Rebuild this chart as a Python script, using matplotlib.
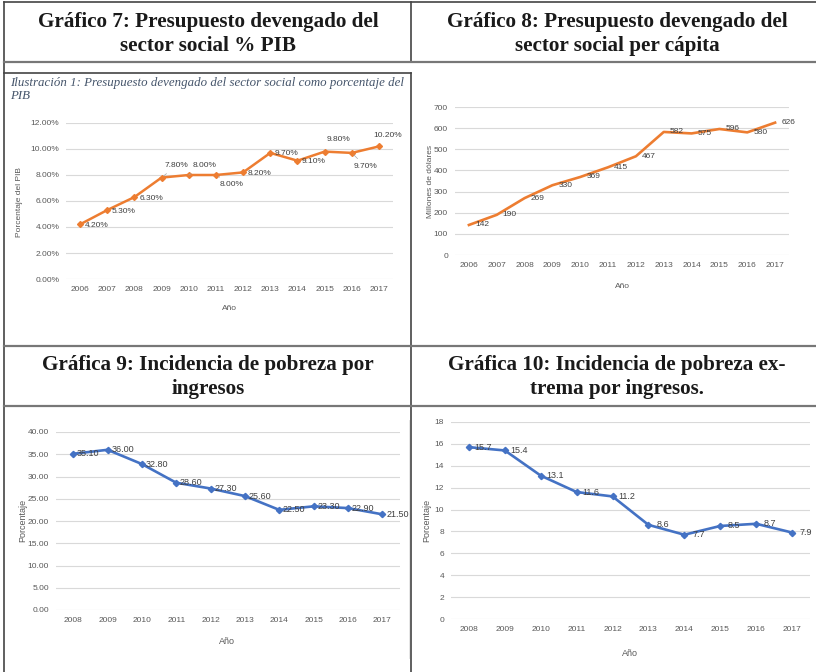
import matplotlib.pyplot as plt
from matplotlib.lines import Line2D
from matplotlib.ticker import StrMethodFormatter

# datos
anios_a = ["2006", "2007", "2008", "2009", "2010", "2011",
           "2012", "2013", "2014", "2015", "2016", "2017"]
pib = [4.2, 5.3, 6.3, 7.8, 8.0, 8.0, 8.2, 9.7, 9.1, 9.8, 9.7, 10.2]
per_capita = [142, 190, 269, 330, 369, 415, 467, 582, 575, 596, 580, 626]

anios_b = ["2008", "2009", "2010", "2011", "2012",
           "2013", "2014", "2015", "2016", "2017"]
pobreza = [35.1, 36.0, 32.8, 28.6, 27.3, 25.6, 22.5, 23.3, 22.9, 21.5]
pobreza_ext = [15.7, 15.4, 13.1, 11.6, 11.2, 8.6, 7.7, 8.5, 8.7, 7.9]

titulos = ["Gráfico 7: Presupuesto devengado del\nsector social % PIB",
           "Gráfico 8: Presupuesto devengado del\nsector social per cápita",
           "Gráfica 9: Incidencia de pobreza por\ningresos",
           "Gráfica 10: Incidencia de pobreza ex-\ntrema por ingresos."]

W, H = 816, 672
NARANJA = "#ED7D31"
AZUL = "#4472C4"
GRIS = "#595959"
FUENTE = ["Liberation Sans Narrow", "Liberation Sans", "DejaVu Sans"]

fig = plt.figure(figsize=(W / 100, H / 100), dpi=100)


def px(x, y):
    return x / W, 1 - y / H


def linea(x0, y0, x1, y1, lw=1.2, color="#444444"):
    fig.add_artist(Line2D([x0 / W, x1 / W], [1 - y0 / H, 1 - y1 / H],
                          transform=fig.transFigure, lw=lw, color=color))


def ejes(x0, x1, y0, y1):
    ax = fig.add_axes([x0 / W, 1 - y1 / H, (x1 - x0) / W, (y1 - y0) / H])
    for s in ax.spines.values():
        s.set_visible(False)
    ax.grid(axis="y", color="#D9D9D9", lw=0.8)
    ax.set_axisbelow(True)
    ax.tick_params(length=0, labelsize=6, colors=GRIS, pad=5)
    for t in ax.get_xticklabels() + ax.get_yticklabels():
        t.set_family(FUENTE)
    return ax


def texto(x, y, s, **kw):
    kw.setdefault("family", FUENTE)
    kw.setdefault("color", GRIS)
    kw.setdefault("ha", "center")
    kw.setdefault("va", "center")
    fig.text(*px(x, y), s, **kw)


# tabla
linea(4, 2, 816, 2)
linea(4, 2, 4, 672)
linea(411, 2, 411, 62)
linea(411, 73, 411, 346)
linea(411, 346, 411, 672)
linea(4, 62, 816, 62, lw=1.6, color="#777777")
linea(4, 73, 411, 73)
linea(4, 346, 816, 346, lw=1.6, color="#777777")
linea(4, 406, 816, 406, lw=1.6, color="#777777")
linea(409, 420, 409, 658, lw=0.6, color="#E0E0E0")

for (x, y), t in zip([(208, 34), (617, 34), (208, 377), (617, 377)], titulos):
    fig.text(*px(x, y), t, ha="center", va="center", family="Liberation Serif",
             weight="bold", fontsize=15.2, color="#1a1a1a", linespacing=1.23)

fig.text(*px(10, 89.5), "Ilustración 1: Presupuesto devengado del sector social como porcentaje del\nPIB",
         ha="left", va="center", family="Liberation Serif", style="italic",
         fontsize=9.3, color="#44546A", linespacing=1.2)

# Gráfico 7
ax = ejes(66.4, 392.6, 123, 279)
ax.plot(anios_a, pib, color=NARANJA, lw=1.8, marker="D", ms=3)
ax.set_xlim(-0.5, 11.5)
ax.set_ylim(0, 12)
ax.set_yticks(range(0, 13, 2))
ax.yaxis.set_major_formatter(StrMethodFormatter("{x:.2f}%"))
desp7 = [(17, -1), (16, -1), (17, -1), (15, 12), (16, 9), (16, -10),
         (16, -1), (16, -1), (16, -1), (14, 12), (14, -14), (9, 11)]
guia7 = [3, 4, 5, 10]
for i, v in enumerate(pib):
    ap = dict(arrowstyle="-", color="#A6A6A6", lw=0.5) if i in guia7 else None
    ax.annotate(f"{v:.2f}%", (i, v), xytext=desp7[i], textcoords="offset pixels",
                ha="center", va="center", fontsize=6, color="#404040",
                family=FUENTE, arrowprops=ap)
texto(20, 202, "Porcentaje del PIB", rotation=90, fontsize=6)
texto(229, 309, "Año", fontsize=6)

# Gráfico 8
ax = ejes(455, 789, 107, 255)
ax.plot(anios_a, per_capita, color=NARANJA, lw=1.9)
ax.set_xlim(-0.5, 11.5)
ax.set_ylim(0, 700)
ax.set_yticks(range(0, 701, 100))
for i, v in enumerate(per_capita):
    ax.annotate(str(v), (i, v), xytext=(13, 0), textcoords="offset pixels",
                ha="center", va="center", fontsize=6, color="#404040",
                family=FUENTE)
texto(431, 182, "Millones de dólares", rotation=90, fontsize=6)
texto(622, 287, "Año", fontsize=6)

# Gráfica 9
ax = ejes(56, 399.5, 432, 610)
ax.plot(anios_b, pobreza, color=AZUL, lw=1.9, marker="D", ms=3.2)
ax.set_xlim(-0.5, 9.5)
ax.set_ylim(0, 40)
ax.set_yticks(range(0, 41, 5))
ax.yaxis.set_major_formatter(StrMethodFormatter("{x:.2f}"))
for i, v in enumerate(pobreza):
    ax.annotate(f"{v:.2f}", (i, v), xytext=(15, 0), textcoords="offset pixels",
                ha="center", va="center", fontsize=6.5, color="#404040",
                family=FUENTE)
texto(23, 520, "Porcentaje", rotation=90, fontsize=6.5)
texto(227, 642, "Año", fontsize=6.5)

# Gráfica 10
ax = ejes(451, 810, 422, 619)
ax.plot(anios_b, pobreza_ext, color=AZUL, lw=1.9, marker="D", ms=3.2)
ax.set_xlim(-0.5, 9.5)
ax.set_ylim(0, 18)
ax.set_yticks(range(0, 19, 2))
for i, v in enumerate(pobreza_ext):
    ax.annotate(f"{v:.1f}", (i, v), xytext=(14, 0), textcoords="offset pixels",
                ha="center", va="center", fontsize=6.5, color="#404040",
                family=FUENTE)
texto(427, 520, "Porcentaje", rotation=90, fontsize=6.5)
texto(630, 653, "Año", fontsize=6.5)

fig.savefig("out.png", dpi=100)
